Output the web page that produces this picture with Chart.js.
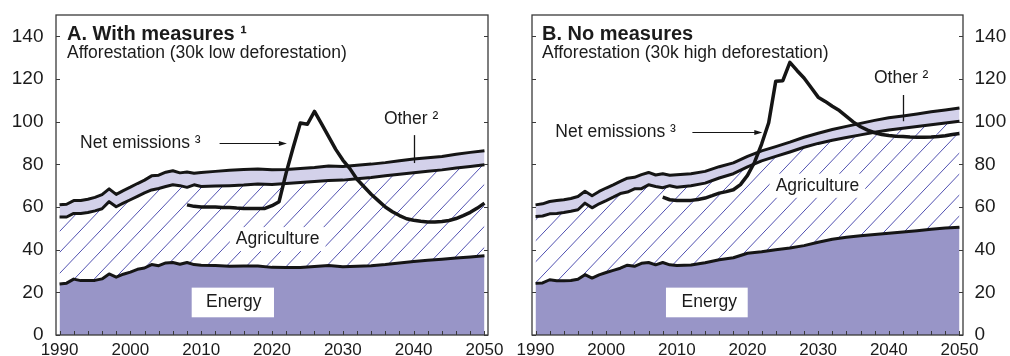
<!DOCTYPE html>
<html>
<head>
<meta charset="utf-8">
<script src="https://cdn.jsdelivr.net/npm/chart.js@4.4.1/dist/chart.umd.min.js"></script>
<style>
  html, body { margin: 0; padding: 0; background: #fff; width: 1010px; height: 356px; overflow: hidden; }
  .panel { position: absolute; top: 0; }
  #wrapA { left: 0; }
  #wrapB { left: 505px; }
  canvas { display: block; }
</style>
</head>
<body>
<div class="panel" id="wrapA"><canvas id="chartA" width="510" height="356"></canvas></div>
<div class="panel" id="wrapB"><canvas id="chartB" width="505" height="356"></canvas></div>
<script>
// ---- Data: emissions by sector (stacked) and net emissions ----
const years = [1990, 1991, 1992, 1993, 1994, 1995, 1996, 1997, 1998, 1999, 2000,
  2001, 2002, 2003, 2004, 2005, 2006, 2007, 2008, 2009, 2010,
  2012, 2014, 2016, 2018, 2020, 2022, 2024, 2026, 2028, 2030,
  2032, 2034, 2036, 2038, 2040, 2042, 2044, 2046, 2048, 2050];

// A. With measures
const energyA = [23.9, 24.3, 26.2, 25.5, 25.6, 25.6, 26.3, 28.6, 27.1, 28.5, 29.5,
  30.8, 31.4, 33.0, 32.5, 33.8, 34.0, 33.2, 34.0, 33.0, 32.7,
  32.6, 32.2, 32.4, 32.3, 31.7, 31.6, 31.6, 32.1, 32.6, 32.0,
  32.2, 32.5, 33.0, 33.7, 34.4, 35.0, 35.5, 36.1, 36.6, 37.1];
const agricultureA = [31.4, 31.0, 30.8, 31.5, 31.8, 32.6, 32.9, 33.9, 33.0, 33.3, 33.9,
  34.2, 35.2, 35.0, 36.2, 35.8, 36.4, 36.8, 35.2, 37.4, 36.9,
  37.2, 37.8, 37.9, 38.5, 38.9, 39.4, 39.9, 39.9, 39.8, 40.6,
  41.0, 41.3, 41.6, 41.7, 41.7, 41.8, 41.9, 42.2, 42.4, 42.7];
const otherA = [5.7, 6.0, 6.0, 6.0, 6.2, 6.3, 6.6, 6.0, 5.8, 5.9, 5.9,
  6.0, 6.0, 6.6, 6.2, 6.7, 6.6, 6.0, 7.2, 5.4, 6.6,
  6.9, 7.2, 7.3, 7.0, 6.9, 6.6, 6.5, 6.5, 6.8, 6.4,
  6.4, 6.3, 6.2, 6.3, 6.4, 6.3, 6.3, 6.4, 6.6, 6.6];

// B. No measures
const energyB = [24.2, 24.4, 25.9, 25.4, 25.4, 25.5, 26.1, 28.3, 26.7, 28.2, 29.3,
  30.3, 31.3, 32.7, 32.2, 33.6, 34.0, 32.9, 34.0, 32.9, 32.6,
  32.8, 33.9, 35.3, 36.2, 38.3, 39.0, 40.0, 40.8, 41.9, 43.5,
  44.9, 45.8, 46.5, 47.1, 47.7, 48.3, 48.9, 49.6, 50.1, 50.5];
const agricultureB = [31.4, 31.4, 30.9, 31.6, 32.0, 32.5, 32.6, 33.5, 32.9, 33.3, 33.7,
  34.3, 35.0, 34.3, 36.3, 35.0, 36.4, 36.7, 35.0, 37.1, 36.7,
  37.2, 37.3, 38.3, 39.4, 40.5, 42.6, 43.7, 45.0, 46.1, 46.3,
  46.4, 46.8, 47.3, 47.9, 48.4, 48.6, 48.8, 49.0, 49.3, 49.7];
const otherB = [5.4, 5.7, 5.8, 6.0, 6.0, 6.0, 6.2, 5.6, 5.7, 5.8, 5.9,
  5.8, 5.7, 6.5, 5.4, 6.6, 5.8, 5.4, 6.6, 4.9, 5.8,
  5.6, 5.5, 5.3, 5.1, 4.9, 4.7, 4.6, 4.6, 4.7, 4.8,
  5.0, 5.2, 5.4, 5.6, 5.7, 5.8, 5.9, 6.0, 6.1, 6.2];

// Net emissions (2008 onwards)
const netYears = [2008, 2009, 2010, 2011, 2012, 2013, 2014, 2015, 2016, 2017, 2018, 2019,
  2020, 2021, 2022, 2023, 2024, 2025, 2026, 2027, 2028, 2029, 2030, 2031, 2032, 2033,
  2034, 2035, 2036, 2037, 2038, 2039, 2040, 2041, 2042, 2043, 2044, 2045, 2046, 2047,
  2048, 2049, 2050];
const netA = [61.0, 60.3, 60.0, 60.0, 60.0, 59.8, 59.8, 59.5, 59.3, 59.3, 59.3, 59.3,
  60.6, 62.5, 76.0, 88.0, 99.4, 98.8, 104.8, 99.0, 93.0, 87.0, 82.0, 78.0, 73.0, 69.5,
  66.0, 63.0, 60.0, 57.8, 56.0, 54.5, 53.8, 53.3, 53.0, 53.0, 53.2, 53.7, 54.6, 56.0,
  57.5, 59.5, 61.8];
const netB = [64.6, 63.4, 63.1, 63.1, 63.1, 63.5, 64.2, 65.3, 66.5, 67.2, 68.1, 70.5,
  74.8, 81.0, 89.5, 99.5, 119.0, 119.2, 127.8, 124.0, 120.5, 116.0, 111.5, 109.5, 107.2, 105.2,
  102.5, 99.8, 97.6, 96.0, 94.8, 94.0, 93.5, 93.2, 93.0, 92.8, 92.7, 92.7, 92.8, 93.0,
  93.4, 94.0, 94.5];

// Axis ticks
const yTicks = [0, 20, 40, 60, 80, 100, 120, 140];
const xLabelYears = [1990, 2000, 2010, 2020, 2030, 2040, 2050];

// ---- Styles ----
const FONT = '"Liberation Sans", Arial, Helvetica, sans-serif';
const TEXT = '#1b1b1b';
const LINE = '#151515';
const FRAME = '#3a3a3a';
const ENERGY_FILL = '#9895c7';
const OTHER_FILL = '#d3d1ea';
const HATCH = '#3e3ea8';

function hatchPattern(ctx) {
  const w = 20, h = 21;
  const c = document.createElement('canvas');
  c.width = w; c.height = h;
  const g = c.getContext('2d');
  g.fillStyle = '#ffffff';
  g.fillRect(0, 0, w, h);
  g.strokeStyle = HATCH;
  g.lineWidth = 0.9;
  g.beginPath();
  for (let k = -1; k <= 1; k++) {
    g.moveTo(-w, 2 * h + k * h);
    g.lineTo(2 * w, -h + k * h);
  }
  g.stroke();
  return ctx.createPattern(c, 'repeat');
}

const pts = (xs, ys) => xs.map((x, i) => ({ x, y: ys[i] }));

// Text labels, arrows and boxes drawn inside each panel (positions in data units)
const notesA = {
  title: 'A. With measures \u00b9',
  subtitle: 'Afforestation (30k low deforestation)',
  titleDx: 11,
  net: { x: 1992.9, y: 87.6, from: 2012.6, to: 2022.1, arrowY: 90.0 },
  other: { x: 2035.8, y: 98.9, lineX: 2040.0, top: 93.7, bottom: 80.6 },
  agri: { x: 2020.8, y: 42.6 },
  energy: { x: 2014.6, y: 13.0, left: 2008.66, right: 2020.28, top: 22.2, bottom: 8.3 }
};
const notesB = {
  title: 'B. No measures',
  subtitle: 'Afforestation (30k high deforestation)',
  titleDx: 10,
  net: { x: 1992.8, y: 92.7, from: 2012.2, to: 2022.1, arrowY: 95.0 },
  other: { x: 2037.9, y: 118.0, lineX: 2042.0, top: 112.5, bottom: 100.2 },
  agri: { x: 2029.9, y: 67.6 },
  energy: { x: 2014.6, y: 13.0, left: 2008.46, right: 2020.03, top: 22.2, bottom: 8.3 }
};

const decor = {
  id: 'decor',
  afterDraw(chart) {
    const notes = chart.options.plugins.decor.notes;
    const { ctx, chartArea: a, scales: { x, y } } = chart;
    const px = v => x.getPixelForValue(v);
    const py = v => y.getPixelForValue(v);
    ctx.save();

    // plot frame
    ctx.strokeStyle = FRAME;
    ctx.lineWidth = 1.3;
    ctx.strokeRect(a.left, a.top, a.right - a.left, a.bottom - a.top);

    // inward tick marks
    ctx.lineWidth = 1;
    ctx.beginPath();
    yTicks.forEach(v => {
      const p = Math.round(py(v)) + 0.5;
      ctx.moveTo(a.left, p); ctx.lineTo(a.left + 4, p);
      ctx.moveTo(a.right, p); ctx.lineTo(a.right - 4, p);
    });
    for (let yr = 1990; yr <= 2050; yr += 2) {
      const p = Math.round(px(yr)) + 0.5;
      ctx.moveTo(p, a.bottom); ctx.lineTo(p, a.bottom - 4);
    }
    ctx.stroke();

    ctx.fillStyle = TEXT;
    ctx.textBaseline = 'alphabetic';
    ctx.textAlign = 'left';

    // titles
    ctx.font = `bold 20px ${FONT}`;
    ctx.fillText(notes.title, a.left + notes.titleDx, a.top + 25);
    ctx.font = `17.5px ${FONT}`;
    ctx.fillText(notes.subtitle, a.left + notes.titleDx, a.top + 42.5);

    // net emissions label with arrow
    ctx.font = `17.5px ${FONT}`;
    ctx.fillText('Net emissions \u00b3', px(notes.net.x), py(notes.net.y));
    const ay = Math.round(py(notes.net.arrowY)) + 0.5;
    const ax1 = px(notes.net.from), ax2 = px(notes.net.to);
    ctx.strokeStyle = LINE;
    ctx.lineWidth = 1.1;
    ctx.beginPath(); ctx.moveTo(ax1, ay); ctx.lineTo(ax2 - 6, ay); ctx.stroke();
    ctx.beginPath();
    ctx.moveTo(ax2, ay); ctx.lineTo(ax2 - 8, ay - 2.6); ctx.lineTo(ax2 - 8, ay + 2.6); ctx.closePath();
    ctx.fillStyle = LINE; ctx.fill();

    // other label with pointer
    ctx.fillStyle = TEXT;
    ctx.fillText('Other \u00b2', px(notes.other.x), py(notes.other.y));
    const lx = Math.round(px(notes.other.lineX)) + 0.5;
    ctx.lineWidth = 1.3;
    ctx.beginPath(); ctx.moveTo(lx, py(notes.other.top)); ctx.lineTo(lx, py(notes.other.bottom)); ctx.stroke();

    // agriculture label on a white patch
    ctx.font = `17.5px ${FONT}`;
    const agText = 'Agriculture';
    const agW = ctx.measureText(agText).width;
    const agX = px(notes.agri.x), agY = py(notes.agri.y);
    ctx.fillStyle = '#fff';
    ctx.fillRect(agX - agW / 2 - 6, agY - 17, agW + 12, 24);
    ctx.fillStyle = TEXT;
    ctx.textAlign = 'center';
    ctx.fillText(agText, agX, agY);

    // energy label in a white box
    const e = notes.energy;
    ctx.fillStyle = '#fff';
    ctx.fillRect(px(e.left), py(e.top), px(e.right) - px(e.left), py(e.bottom) - py(e.top));
    ctx.fillStyle = TEXT;
    ctx.fillText('Energy', px(e.x), py(e.y));
    ctx.restore();
  }
};

function buildChart(id, side, energy, agriculture, other, net, notes) {
  const canvas = document.getElementById(id);
  const ctx = canvas.getContext('2d');
  const isLeft = side === 'left';
  const lineStyle = { pointRadius: 0, tension: 0, borderColor: LINE, borderWidth: 3, borderJoinStyle: 'round', stack: 'sectors', order: 1 };
  return new Chart(ctx, {
    type: 'line',
    data: {
      datasets: [
        { label: 'Energy', data: pts(years, energy), fill: 'origin', backgroundColor: ENERGY_FILL, ...lineStyle },
        { label: 'Agriculture', data: pts(years, agriculture), fill: '-1', backgroundColor: hatchPattern(ctx), ...lineStyle },
        { label: 'Other', data: pts(years, other), fill: '-1', backgroundColor: OTHER_FILL, ...lineStyle },
        { label: 'Net emissions', data: pts(netYears, net), fill: false, pointRadius: 0, tension: 0,
          borderColor: LINE, borderWidth: 3.5, borderJoinStyle: 'round', stack: 'net', order: 0 }
      ]
    },
    options: {
      responsive: false,
      devicePixelRatio: 1,
      animation: false,
      events: [],
      layout: { padding: isLeft ? { left: 0, right: 22, top: 15, bottom: 0 } : { left: 27, right: 0, top: 15, bottom: 0 } },
      plugins: {
        legend: { display: false },
        title: { display: false },
        tooltip: { enabled: false },
        decor: { notes }
      },
      scales: {
        x: {
          type: 'linear', min: 1989.5, max: 2050.5,
          grid: { display: false, drawTicks: false },
          border: { display: false },
          afterBuildTicks: s => { s.ticks = xLabelYears.map(v => ({ value: v })); },
          afterFit: s => { s.height = 21; s.paddingLeft = 0; s.paddingRight = 0; },
          ticks: { autoSkip: false, maxRotation: 0, padding: 5, color: TEXT,
                   font: { family: FONT, size: 17 }, callback: v => String(v) }
        },
        y: {
          type: 'linear', position: side, stacked: true, min: 0, max: 150,
          grid: { display: false, drawTicks: false },
          border: { display: false },
          afterBuildTicks: s => { s.ticks = yTicks.map(v => ({ value: v })); },
          afterFit: s => { s.width = isLeft ? 56 : 47; s.paddingTop = 0; s.paddingBottom = 0; },
          ticks: { padding: isLeft ? 12.5 : 11.5, color: TEXT,
                   font: { family: FONT, size: 19 }, callback: v => String(v) }
        }
      }
    },
    plugins: [decor]
  });
}

buildChart('chartA', 'left', energyA, agricultureA, otherA, netA, notesA);
buildChart('chartB', 'right', energyB, agricultureB, otherB, netB, notesB);
</script>
</body>
</html>
